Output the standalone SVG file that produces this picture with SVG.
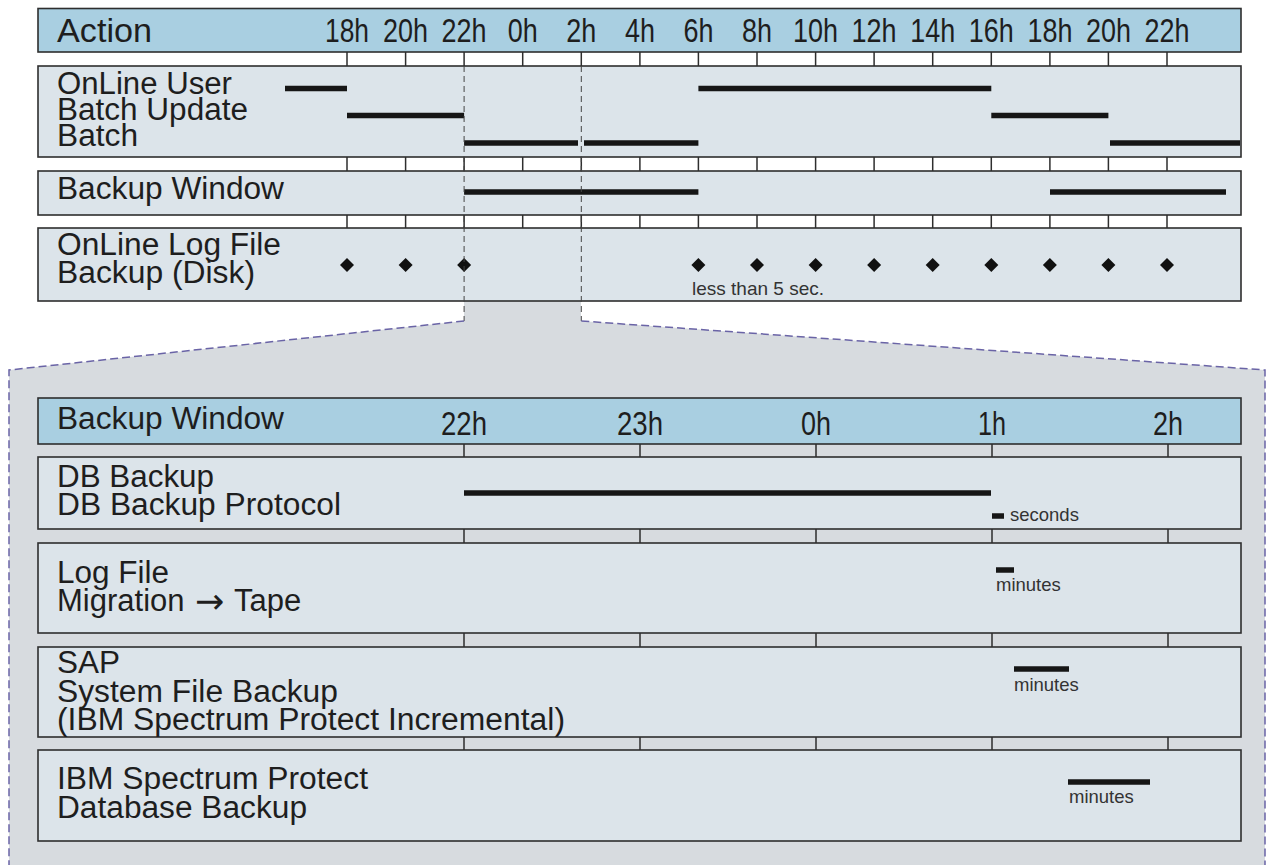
<svg xmlns="http://www.w3.org/2000/svg" width="1271" height="865" viewBox="0 0 1271 865">
<style>
text{font-family:"Liberation Sans",Arial,sans-serif;fill:#1e1e1e}
.hdr{fill:#a9cfe1;stroke:#2e2e2e;stroke-width:1.6}
.row{fill:#dce4ea;stroke:#2e2e2e;stroke-width:1.6}
.tick{stroke:#2e2e2e;stroke-width:1.5}
.bar{stroke:#161616;stroke-width:5.5}
.lbl{font-size:31px}
.h{font-size:33px}
.t{font-size:34px;text-anchor:middle}
.s{font-size:18.5px;fill:#333}
.dia{fill:#111}
.vd{stroke:#444;stroke-width:1;stroke-dasharray:6 4;fill:none}
.zd{stroke:#6a64a6;stroke-width:1.5;stroke-dasharray:8 4;fill:none}
</style>
<rect width="1271" height="865" fill="#ffffff"/>
<!-- zoom area background -->
<polygon points="464,301 464,321 9,370 9,865 1265,865 1265,370 581,321 581,301" fill="#d7dbdf"/>

<g id="top-header">
<rect class="hdr" x="38" y="8.5" width="1203" height="43.5"/>
<text class="h" x="57" y="41.5" textLength="95" lengthAdjust="spacingAndGlyphs">Action</text>
<text class="t" x="347" y="41.5" textLength="44" lengthAdjust="spacingAndGlyphs">18h</text>
<text class="t" x="405.6" y="41.5" textLength="45" lengthAdjust="spacingAndGlyphs">20h</text>
<text class="t" x="464.1" y="41.5" textLength="45" lengthAdjust="spacingAndGlyphs">22h</text>
<text class="t" x="522.7" y="41.5" textLength="30" lengthAdjust="spacingAndGlyphs">0h</text>
<text class="t" x="581.3" y="41.5" textLength="30" lengthAdjust="spacingAndGlyphs">2h</text>
<text class="t" x="639.9" y="41.5" textLength="30" lengthAdjust="spacingAndGlyphs">4h</text>
<text class="t" x="698.4" y="41.5" textLength="30" lengthAdjust="spacingAndGlyphs">6h</text>
<text class="t" x="757" y="41.5" textLength="30" lengthAdjust="spacingAndGlyphs">8h</text>
<text class="t" x="815.6" y="41.5" textLength="45" lengthAdjust="spacingAndGlyphs">10h</text>
<text class="t" x="874.1" y="41.5" textLength="45" lengthAdjust="spacingAndGlyphs">12h</text>
<text class="t" x="932.7" y="41.5" textLength="45" lengthAdjust="spacingAndGlyphs">14h</text>
<text class="t" x="991.3" y="41.5" textLength="45" lengthAdjust="spacingAndGlyphs">16h</text>
<text class="t" x="1049.9" y="41.5" textLength="45" lengthAdjust="spacingAndGlyphs">18h</text>
<text class="t" x="1108.4" y="41.5" textLength="45" lengthAdjust="spacingAndGlyphs">20h</text>
<text class="t" x="1167" y="41.5" textLength="45" lengthAdjust="spacingAndGlyphs">22h</text>
</g>

<g id="top-ticks">
<path class="tick" d="M347,52V66M405.6,52V66M464.1,52V66M522.7,52V66M581.3,52V66M639.9,52V66M698.4,52V66M757,52V66M815.6,52V66M874.1,52V66M932.7,52V66M991.3,52V66M1049.9,52V66M1108.4,52V66M1167,52V66"/>
<path class="tick" d="M347,157V171M405.6,157V171M464.1,157V171M522.7,157V171M581.3,157V171M639.9,157V171M698.4,157V171M757,157V171M815.6,157V171M874.1,157V171M932.7,157V171M991.3,157V171M1049.9,157V171M1108.4,157V171M1167,157V171"/>
<path class="tick" d="M347,215V228M405.6,215V228M464.1,215V228M522.7,215V228M581.3,215V228M639.9,215V228M698.4,215V228M757,215V228M815.6,215V228M874.1,215V228M932.7,215V228M991.3,215V228M1049.9,215V228M1108.4,215V228M1167,215V228"/>
</g>

<g id="row-activity">
<rect class="row" x="38" y="66" width="1203" height="91"/>
<text class="lbl" x="57" y="94" textLength="175" lengthAdjust="spacingAndGlyphs">OnLine User</text>
<text class="lbl" x="57" y="120" textLength="191" lengthAdjust="spacingAndGlyphs">Batch Update</text>
<text class="lbl" x="57" y="146" textLength="81" lengthAdjust="spacingAndGlyphs">Batch</text>
<path class="bar" d="M285,88.5H347M698.4,88.5H991.3M347,115.5H464.1M991.3,115.5H1108.4M464.1,143H578M584,143H698.4M1110,143H1240"/>
</g>

<g id="row-backup-window">
<rect class="row" x="38" y="171" width="1203" height="44"/>
<text class="lbl" x="57" y="199" textLength="227" lengthAdjust="spacingAndGlyphs">Backup Window</text>
<path class="bar" d="M464.1,192H698.4M1050,192H1226"/>
</g>

<g id="row-log-backup">
<rect class="row" x="38" y="228" width="1203" height="73"/>
<text class="lbl" x="57" y="255" textLength="224" lengthAdjust="spacingAndGlyphs">OnLine Log File</text>
<text class="lbl" x="57" y="283" textLength="198" lengthAdjust="spacingAndGlyphs">Backup (Disk)</text>
<g class="dia">
<path d="M347,258l7,7l-7,7l-7,-7z"/>
<path d="M405.6,258l7,7l-7,7l-7,-7z"/>
<path d="M464.1,258l7,7l-7,7l-7,-7z"/>
<path d="M698.4,258l7,7l-7,7l-7,-7z"/>
<path d="M757,258l7,7l-7,7l-7,-7z"/>
<path d="M815.6,258l7,7l-7,7l-7,-7z"/>
<path d="M874.1,258l7,7l-7,7l-7,-7z"/>
<path d="M932.7,258l7,7l-7,7l-7,-7z"/>
<path d="M991.3,258l7,7l-7,7l-7,-7z"/>
<path d="M1049.9,258l7,7l-7,7l-7,-7z"/>
<path d="M1108.4,258l7,7l-7,7l-7,-7z"/>
<path d="M1167,258l7,7l-7,7l-7,-7z"/>
</g>
<text class="s" x="692" y="295" textLength="132" lengthAdjust="spacingAndGlyphs">less than 5 sec.</text>
</g>

<g id="connectors">
<path class="vd" d="M464.1,66V321M581.3,66V321"/>
<path class="zd" d="M464.1,321L9,370V865M581.3,321L1265,370V865"/>
</g>

<g id="bottom-header">
<rect class="hdr" x="38" y="398" width="1203" height="46"/>
<text class="lbl" x="57" y="429" textLength="227" lengthAdjust="spacingAndGlyphs">Backup Window</text>
<text class="t" x="464" y="435" textLength="46" lengthAdjust="spacingAndGlyphs">22h</text>
<text class="t" x="640" y="435" textLength="46" lengthAdjust="spacingAndGlyphs">23h</text>
<text class="t" x="816" y="435" textLength="30" lengthAdjust="spacingAndGlyphs">0h</text>
<text class="t" x="992" y="435" textLength="28" lengthAdjust="spacingAndGlyphs">1h</text>
<text class="t" x="1168" y="435" textLength="30" lengthAdjust="spacingAndGlyphs">2h</text>
</g>

<g id="bottom-ticks">
<path class="tick" d="M464,444V457M640,444V457M816,444V457M992,444V457M1168,444V457"/>
<path class="tick" d="M464,529V543M640,529V543M816,529V543M992,529V543M1168,529V543"/>
<path class="tick" d="M464,633V647M640,633V647M816,633V647M992,633V647M1168,633V647"/>
<path class="tick" d="M464,737V750M640,737V750M816,737V750M992,737V750M1168,737V750"/>
</g>

<g id="row-db-backup">
<rect class="row" x="38" y="457" width="1203" height="72"/>
<text class="lbl" x="57" y="487" textLength="157" lengthAdjust="spacingAndGlyphs">DB Backup</text>
<text class="lbl" x="57" y="515" textLength="284" lengthAdjust="spacingAndGlyphs">DB Backup Protocol</text>
<path class="bar" d="M464,493H991M992,516H1004"/>
<text class="s" x="1010" y="521">seconds</text>
</g>

<g id="row-log-migration">
<rect class="row" x="38" y="543" width="1203" height="90"/>
<text class="lbl" x="57" y="583" textLength="112" lengthAdjust="spacingAndGlyphs">Log File</text>
<text class="lbl" x="57" y="611">Migration <tspan x="195" dy="2" font-family="DejaVu Sans" font-size="35">→</tspan><tspan x="234" dy="-2">Tape</tspan></text>
<path class="bar" d="M996,570H1014"/>
<text class="s" x="996" y="591">minutes</text>
</g>

<g id="row-sap">
<rect class="row" x="38" y="647" width="1203" height="90"/>
<text class="lbl" x="57" y="673" textLength="63" lengthAdjust="spacingAndGlyphs">SAP</text>
<text class="lbl" x="57" y="701.5" textLength="281" lengthAdjust="spacingAndGlyphs">System File Backup</text>
<text class="lbl" x="57" y="730" textLength="508" lengthAdjust="spacingAndGlyphs">(IBM Spectrum Protect Incremental)</text>
<path class="bar" d="M1014,669H1069"/>
<text class="s" x="1014" y="691">minutes</text>
</g>

<g id="row-tsm-db">
<rect class="row" x="38" y="750" width="1203" height="91"/>
<text class="lbl" x="57" y="789" textLength="311" lengthAdjust="spacingAndGlyphs">IBM Spectrum Protect</text>
<text class="lbl" x="57" y="818" textLength="250" lengthAdjust="spacingAndGlyphs">Database Backup</text>
<path class="bar" d="M1068,782H1150"/>
<text class="s" x="1069" y="803">minutes</text>
</g>
</svg>
